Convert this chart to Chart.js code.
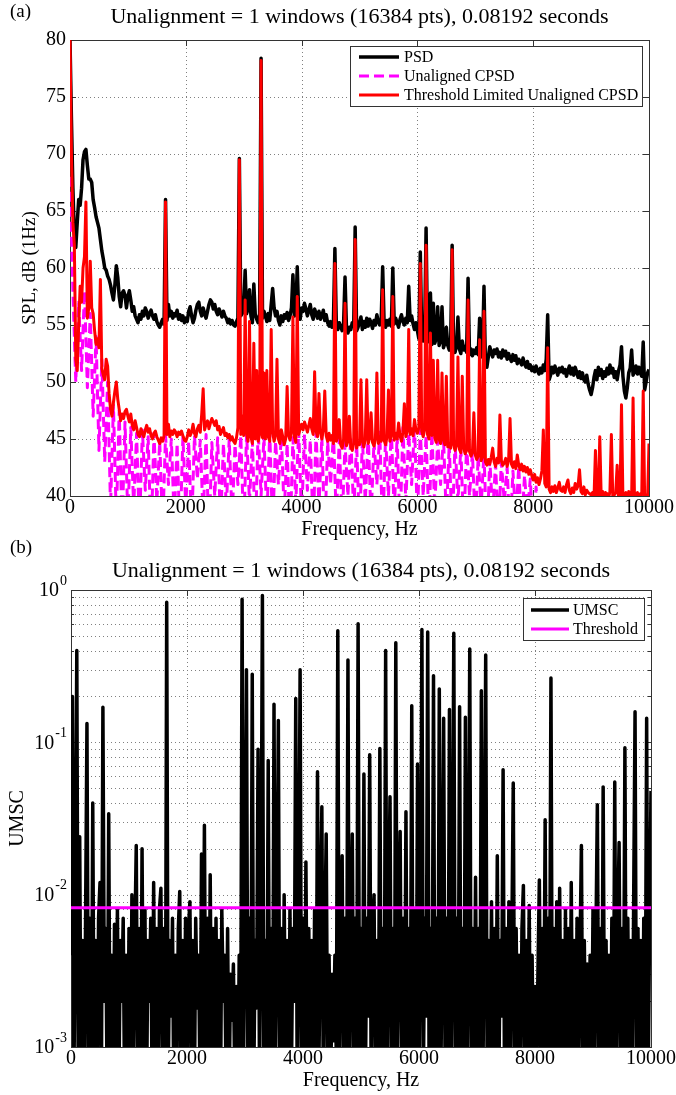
<!DOCTYPE html>
<html>
<head>
<meta charset="utf-8">
<script src="https://cdn.jsdelivr.net/npm/chart.js@4.4.1/dist/chart.umd.min.js"></script>
<style>
  html, body { margin: 0; padding: 0; background: #fff; }
  #wrap { position: relative; width: 676px; height: 1095px; overflow: hidden; }
  #psdChart { position: absolute; left: 0; top: 0; }
  #umscChart { position: absolute; left: 0; top: 535px; }
</style>
</head>
<body>
<div id="wrap">
  <canvas id="psdChart" width="676" height="545"></canvas>
  <canvas id="umscChart" width="676" height="560"></canvas>
</div>
<script>
// ---- data ----
var freqStep = 25;   // Hz between samples of psdDb, cpsdLimitedDb, umscE3
var cpsdStep = 50;   // Hz between samples of cpsdUnalignedDb

var psdDb = [
  80, 73, 67, 63, 61.8, 64, 66, 65.5, 67, 69.5, 70.2, 70.4, 69, 67.8, 67.8, 67.5, 66, 65.3, 64.5, 64,
  63.5, 62.5, 61.5, 60.8, 60, 59.8, 59.3, 59, 58.5, 57.8, 57.2, 58.5, 60.2, 59.2, 57.5, 56.6, 57.8, 58, 57.6, 56.5,
  57.5, 58, 57.2, 56.2, 56.6, 55.8, 55.5, 55.2, 55.9, 55.5, 56.2, 55.8, 56.5, 56.2, 55.6, 56, 56.3, 55.8, 55.5, 55.9,
  55.3, 55, 54.8, 55.2, 55.5, 55.1, 66, 55.4, 56.8, 55.8, 56.2, 55.6, 56, 55.8, 56.3, 55.5, 55.9, 55.4, 55.8, 55.2,
  55.6, 55.3, 56.2, 56.6, 55.8, 55.2, 55.6, 56.3, 56.8, 57, 56.2, 55.8, 56.5, 56, 55.6, 56.2, 56.8, 57.2, 57, 56.4,
  56.8, 56.2, 55.9, 56.4, 56.1, 55.7, 56.2, 55.8, 55.6, 55.2, 55.5, 55.1, 55.4, 55, 54.9, 55.3, 55.6, 69.6, 55.8, 56,
  56.5, 59.8, 56, 56.4, 58.1, 55.8, 55.2, 58.6, 55.9, 55.5, 55.2, 56, 78.4, 55.6, 56.2, 55.8, 55.3, 56, 55.4, 56.8,
  58.2, 56.5, 55.8, 56.2, 55.4, 55, 55.8, 55.3, 55.9, 55.6, 56.1, 55.4, 55.8, 56.5, 59.4, 55.8, 56.2, 60.1, 56, 55.5,
  56.5, 56.2, 56.9, 56.4, 55.8, 56.3, 56.8, 55.9, 55.5, 56.4, 56, 55.6, 56.2, 55.5, 55.8, 56.3, 55.4, 55.9, 55.2, 54.9,
  55.3, 54.8, 55.4, 61.7, 55, 54.6, 55.2, 54.9, 54.5, 55.1, 59.2, 54.7, 54.3, 54.8, 54.6, 55.2, 54.9, 63.6, 54.5, 54.8,
  55.2, 55.7, 54.6, 55.3, 54.8, 55.6, 54.9, 55.5, 55.2, 54.7, 55.4, 55, 55.9, 55.3, 55, 55.5, 60.1, 55.2, 54.8, 55.4,
  55, 55.5, 54.9, 60, 55.1, 55.6, 55.2, 54.8, 55.5, 55.9, 55.3, 55, 55.6, 55.2, 58.4, 55.4, 55.8, 55.1, 54.6, 55.2,
  54.5, 53.8, 61.4, 54, 53.6, 54.2, 63.5, 53.5, 54, 57.8, 53.3, 56.9, 53.4, 53.8, 56.6, 53.2, 53.6, 56.6, 53, 53.4,
  54.8, 53.2, 52.8, 53.5, 62, 53, 52.6, 53.2, 55.7, 52.9, 52.5, 53.6, 52.8, 53.1, 52.6, 59.1, 52.4, 52.9, 52.3, 52.8,
  52.5, 53, 52.4, 55.6, 52.2, 52.8, 58.4, 51.5, 51.3, 52.2, 53.1, 52.6, 52.2, 52.8, 52.5, 52.9, 52.2, 52.6, 52.1, 52.8,
  52.3, 52.7, 52, 52.5, 52.1, 51.8, 52.4, 51.9, 52.3, 51.6, 52, 51.8, 51.5, 52.1, 51.6, 51.3, 51.8, 51.2, 51.5, 51,
  51.3, 50.9, 51.4, 51, 50.7, 51.2, 50.8, 51.5, 51, 52, 55.9, 50.2, 50.6, 51.3, 50.8, 51.4, 51, 50.6, 51.2, 50.9,
  51.3, 50.8, 51.1, 50.5, 51, 51.4, 50.7, 51.2, 50.6, 51.3, 50.9, 50.4, 50.9, 50.3, 50.8, 50.2, 50, 50.6, 49.8, 49.3,
  48.9, 49.5, 50.4, 51, 50.2, 51.3, 50.6, 51.1, 50.3, 50.9, 50.5, 51.2, 50.7, 51.5, 50.8, 51.2, 50.4, 50.9, 50.2, 51,
  51.5, 53.1, 50.5, 49.2, 48.6, 49.5, 50.8, 51.2, 52.8, 50.6, 50.9, 51.4, 50.7, 51.3, 50.8, 50.5, 53.5, 49.3, 50, 50.8,
  51.1
];

var cpsdLimitedDb = [
  80, 70, 64, 62, 52, 51, 55, 58.4, 57, 60, 61, 65.8, 55.6, 56.5, 60.6, 56.5, 56, 54.5, 53.3, 53.8,
  53, 59, 51.2, 50.6, 50.2, 52, 51.4, 49, 47.6, 47, 48.2, 49.2, 50, 48.5, 47.6, 46.6, 47.2, 46.8, 47.4, 47.6,
  47, 46.5, 47.2, 46.2, 45.8, 46.6, 46, 45.4, 45.2, 45.9, 45.5, 45.2, 45.8, 46.2, 45.6, 45.9, 45.3, 45, 45.5, 45.7,
  45.2, 44.9, 44.6, 45.1, 44.8, 45.3, 65.8, 45.4, 46.3, 45.2, 45.7, 45.4, 45.8, 45.6, 45.2, 45.6, 45.4, 45.7, 45.3, 44.9,
  44.8, 45.2, 45.8, 45.3, 45.6, 46.3, 45.5, 45.2, 45.9, 46.2, 45.6, 47.2, 49.4, 45.8, 46.3, 46.6, 45.9, 46.4, 46.8, 46.5,
  46.2, 46.6, 45.8, 46.1, 45.4, 45.7, 46, 45.3, 45.5, 45.1, 45.4, 44.9, 45.2, 44.8, 44.6, 45.1, 46, 69.5, 45.4, 47,
  45.3, 57.2, 45.5, 44.8, 55.3, 45.2, 44.6, 53.4, 45, 51, 44.8, 45.4, 78.2, 45.1, 50.8, 45, 51, 45.2, 44.8, 54.6,
  45.6, 44.8, 45.3, 52, 45, 44.6, 45.8, 45.2, 44.5, 45, 49.6, 45.3, 44.9, 45.6, 55.7, 45.2, 44.7, 57.5, 45.4, 45.9,
  46.3, 45.8, 46.5, 46.1, 45.6, 46.2, 46.8, 45.9, 45.4, 50.9, 45.7, 45.2, 49, 45.6, 45, 45.8, 49.2, 45.3, 44.8, 45.5,
  44.9, 45.3, 44.6, 60.4, 44.8, 45.2, 46.7, 44.5, 44.2, 44.9, 56.9, 44.4, 44.8, 47, 44.3, 44, 44.6, 62.5, 44.2, 44.7,
  44.5, 50.2, 44.8, 44.3, 45, 50.2, 44.6, 45.1, 47.3, 44.7, 44.4, 45, 50.8, 44.6, 45.2, 44.8, 58.1, 44.9, 44.5, 45.2,
  49.3, 44.8, 45.3, 57.5, 44.9, 45.5, 45, 46.4, 45.3, 44.8, 45.6, 48.1, 45.2, 45.7, 54.6, 45.4, 45.9, 45.3, 46.7, 45.8,
  45.5, 46, 60.4, 45.7, 45.2, 45.8, 62, 45.4, 45, 54.3, 45.3, 51.9, 45.1, 44.7, 51.9, 45, 44.6, 50.8, 44.9, 44.5,
  50.5, 44.3, 44.6, 44.2, 61.6, 44.5, 44, 44.4, 52.2, 44.1, 43.8, 50.5, 44.2, 43.7, 44, 57.2, 43.9, 43.5, 43.8, 47.3,
  43.6, 43.2, 43.5, 53.7, 43.1, 43.4, 56.2, 43, 42.7, 43.2, 42.8, 43.4, 44.2, 43, 42.6, 43.3, 42.9, 47.1, 43.1, 42.7,
  42.9, 43.3, 42.6, 43.1, 46.8, 42.8, 42.5, 43, 42.4, 43.6, 42.7, 42.3, 42.8, 42.2, 42.6, 42.1, 42.5, 41.9, 42.3, 41.8,
  41.4, 41.9, 41.2, 41.6, 41, 41.5, 42.2, 45.8, 41.1, 40.8, 53, 40.6, 40.3, 40.8, 40.4, 40.9, 40.3, 40.7, 41.2, 40.5,
  40.4, 40.8, 40.3, 41, 41.4, 40.5, 40.2, 40.7, 40.3, 41.1, 40.6, 40.9, 42.3, 40.4, 40.2, 40.8, 40.1, 40.5, 40.3, 40.2,
  40.1, 40.3, 39.8, 44, 39.7, 40.1, 45.2, 39.8, 40.4, 39.6, 40.3, 40.2, 39.7, 40.4, 45.4, 39.8, 40.1, 40.3, 42.7, 39.6,
  40.1, 48, 39.7, 40.1, 40.3, 39.6, 40.4, 40.2, 39.8, 48.6, 39.7, 40.1, 40.3, 39.6, 40.2, 40.1, 49.2, 39.8, 40.1, 39.7,
  44.6
];

var cpsdUnalignedDb = [
  68, 58, 50, 57, 51, 58, 49.5, 56, 47, 54, 44, 52, 43, 50, 39, 48, 38, 47.5, 37, 46.5,
  38, 46, 39, 45.5, 37, 45.8, 40.5, 45.2, 36, 45.5, 39.5, 44.8, 37, 45.3, 41, 45, 38, 44.6, 36.5, 45.2,
  39, 44.8, 37, 45.3, 41.5, 44.9, 38, 45.4, 36, 44.7, 40, 45.1, 37.5, 44.6, 39, 45, 38, 44.5, 41, 45.3,
  37, 45.5, 39.5, 44.9, 36.5, 45.8, 40, 45.2, 38, 45.6, 37, 44.8, 41, 45.3, 38.5, 44.6, 36, 45.1, 39.5, 45.7,
  38, 45.4, 40.5, 44.9, 37, 45.6, 39, 45.2, 36.5, 44.8, 41, 45.5, 38, 45, 37.5, 44.6, 40, 45.2, 38.5, 44.7,
  37, 45, 39.5, 45.4, 38, 44.8, 41, 45.6, 36.5, 45.2, 40, 45.8, 38.5, 45.3, 37, 46, 39.5, 45.5, 41, 46.2,
  38, 45.8, 40, 45.3, 37.5, 45.6, 39, 44.9, 41, 45.2, 38, 44.6, 36.5, 44.8, 39.5, 44.2, 37, 44.5, 40, 43.8,
  37.5, 43.5, 39, 43.8, 36, 43.2, 38.5, 42.8, 37, 43, 39.5, 42.5, 36.5, 42.2, 38, 42.6, 37, 41.8, 38.5, 41.5,
  36, 40.8, 37, 39.5, 35, 39.8, 36.5, 38.5, 35.5, 39, 36, 38, 35, 38.5, 34.5, 37.5, 35, 38, 34, 37,
  35, 37.5, 34, 38, 35.5, 37, 34, 37.8, 35, 36.5, 34.5, 37.2, 35, 36.8, 34, 37.5, 35.5, 36.5, 34, 37,
  35
];

// UMSC in units of 1e-3
var umscE3 = [
  4, 200, 0.6, 8, 400, 0.5, 24, 0.4, 5, 0.3, 6, 133, 0.7, 7, 0.4, 40, 0.5, 5, 0.3, 7,
  12, 0.6, 170, 2, 6, 0.4, 34, 0.5, 4, 0.3, 6.4, 0.8, 8, 0.5, 5, 2, 7, 0.4, 4, 0.6,
  6, 0.4, 10, 0.7, 5, 21, 0.5, 6, 0.4, 20, 0.7, 8, 0.3, 5, 2, 7, 0.4, 12, 0.8, 6,
  0.5, 8, 11, 0.6, 6, 0.3, 830, 0.5, 5, 1.6, 7, 0.3, 4, 0.6, 6, 10.5, 0.4, 5, 0.8, 7,
  0.4, 6, 9, 0.6, 5, 0.3, 7, 1.8, 4, 0.5, 18.5, 0.7, 28.6, 0.6, 7, 0.4, 13.5, 0.7, 6, 0.4,
  7, 0.8, 5, 0.3, 8, 2, 4, 0.5, 6, 0.4, 3, 1.5, 3.5, 0.5, 2.5, 0.4, 4, 0.6, 870, 0.8,
  6, 300, 0.6, 7, 0.8, 280, 0.5, 5, 1.8, 90, 0.6, 6, 920, 0.8, 5, 0.5, 76, 0.6, 6, 0.4,
  178, 0.8, 5, 139, 0.5, 6, 0.3, 10, 0.8, 5, 0.4, 8, 0.6, 6, 2, 194, 0.5, 5, 300, 0.6,
  7, 0.5, 16.4, 0.8, 6, 0.4, 5, 0.6, 8, 0.5, 64, 0.8, 6, 37.7, 0.5, 5, 25, 0.6, 4, 0.4,
  3, 1.1, 4, 0.8, 540, 0.6, 6, 18, 0.5, 7, 0.7, 347, 0.5, 6, 25, 0.6, 7, 0.8, 600, 0.6,
  6, 0.7, 62, 0.5, 7, 1.6, 83, 0.6, 6, 10, 0.5, 5, 0.8, 91, 0.5, 6, 0.8, 400, 0.5, 7,
  44, 0.6, 6, 0.5, 450, 0.8, 5, 26, 0.6, 7, 0.7, 35, 0.5, 6, 0.8, 174, 0.5, 8, 0.6, 72,
  0.5, 6, 550, 0.6, 7, 1.6, 530, 0.5, 6, 0.8, 274, 0.5, 7, 0.7, 224, 0.5, 6, 144, 0.6, 7,
  0.8, 164, 0.5, 6, 520, 0.6, 7, 0.8, 171, 0.5, 6, 0.6, 146, 0.5, 5, 410, 0.6, 6, 0.8, 13,
  0.5, 6, 0.7, 218, 0.5, 7, 374, 0.6, 5, 0.8, 9, 0.5, 6, 0.6, 18, 0.5, 5, 1.6, 66, 0.5,
  6, 0.7, 9, 0.5, 5, 54, 0.6, 6, 0.8, 4, 0.5, 6, 11.5, 0.6, 5, 0.8, 8.5, 0.5, 4, 0.6,
  2.5, 0.5, 3, 12.5, 0.6, 6, 0.8, 31, 0.5, 7, 0.8, 264, 0.5, 6, 0.7, 9, 0.5, 11, 0.8, 5,
  0.5, 8, 0.6, 6, 0.5, 12, 0.7, 5, 0.5, 7, 0.6, 4, 21, 0.5, 5, 0.8, 3.5, 0.5, 4, 0.6,
  8, 0.5, 5, 39, 0.6, 6, 0.5, 51, 0.6, 5, 0.8, 4, 0.5, 7, 0.6, 55, 0.5, 6, 22, 0.6,
  6, 0.8, 92, 0.5, 7, 0.6, 5, 0.5, 8, 159, 0.6, 6, 0.7, 5, 0.5, 7, 0.8, 144, 0.5, 6,
  48
];
var umscThreshold = 0.0082;

var freqTicks = [0, 2000, 4000, 6000, 8000, 10000];
var splTicks = [40, 45, 50, 55, 60, 65, 70, 75, 80];
var umscDecades = [0.001, 0.01, 0.1, 1];
var umscExponents = ['-3', '-2', '-1', '0'];
var umscMinor = [0.001, 0.01, 0.1].flatMap(function (d) {
  return [2, 3, 4, 5, 6, 7, 8, 9].map(function (k) { return k * d; });
});

var titleText = 'Unalignment = 1 windows (16384 pts), 0.08192 seconds';
var SERIF = '"Liberation Serif", "Times New Roman", serif';

Chart.defaults.font.family = SERIF;
Chart.defaults.color = '#000';

function seriesPoints(values, step, unit) {
  return values.map(function (v, i) { return { x: i * step, y: v * (unit || 1) }; });
}

// matlab-ish axes: dotted grid, inward ticks, box, title, legend box
var matlabAxes = {
  id: 'matlabAxes',
  beforeDatasetsDraw: function (chart, args, o) {
    var ctx = chart.ctx, a = chart.chartArea;
    var xs = chart.scales.x, ys = chart.scales.y;
    var px = function (v) { return Math.round(xs.getPixelForValue(v)) + 0.5; };
    var py = function (v) { return Math.round(ys.getPixelForValue(v)) + 0.5; };
    var minor = o.yMinor || [];
    ctx.save();
    ctx.lineWidth = 1;
    ctx.strokeStyle = '#808080';
    ctx.setLineDash([1, 3]);
    ctx.beginPath();
    o.xGrid.forEach(function (v) { ctx.moveTo(px(v), a.top); ctx.lineTo(px(v), a.bottom); });
    o.yGrid.concat(minor).forEach(function (v) { ctx.moveTo(a.left, py(v)); ctx.lineTo(a.right, py(v)); });
    ctx.stroke();
    ctx.setLineDash([]);
    ctx.strokeStyle = '#333';
    ctx.beginPath();
    o.xGrid.forEach(function (v) {
      ctx.moveTo(px(v), a.bottom); ctx.lineTo(px(v), a.bottom - 6);
      ctx.moveTo(px(v), a.top); ctx.lineTo(px(v), a.top + 6);
    });
    o.yGrid.forEach(function (v) {
      ctx.moveTo(a.left, py(v)); ctx.lineTo(a.left + 6, py(v));
      ctx.moveTo(a.right, py(v)); ctx.lineTo(a.right - 6, py(v));
    });
    minor.forEach(function (v) {
      ctx.moveTo(a.left, py(v)); ctx.lineTo(a.left + 3, py(v));
      ctx.moveTo(a.right, py(v)); ctx.lineTo(a.right - 3, py(v));
    });
    ctx.stroke();
    ctx.strokeRect(Math.round(a.left) + 0.5, Math.round(a.top) + 0.5, Math.round(a.width), Math.round(a.height));
    ctx.restore();
  },
  afterDraw: function (chart, args, o) {
    var ctx = chart.ctx, a = chart.chartArea;
    ctx.save();
    ctx.fillStyle = '#000';
    ctx.textBaseline = 'middle';
    ctx.font = '19px ' + SERIF;
    ctx.textAlign = 'left';
    ctx.fillText(o.letter, 10, o.letterY);
    ctx.font = '22px ' + SERIF;
    ctx.textAlign = 'center';
    ctx.fillText(o.title, (a.left + a.right) / 2, o.titleY);

    // 10^n labels for the log axis
    if (o.expLabels) {
      var ys = chart.scales.y;
      o.expLabels.values.forEach(function (v, i) {
        var e = o.expLabels.text[i];
        var y = ys.getPixelForValue(v);
        var right = a.left - 4;
        ctx.font = '14px ' + SERIF;
        var we = ctx.measureText(e).width;
        ctx.textAlign = 'left';
        ctx.fillText(e, right - we, y - 9);
        ctx.font = '20px ' + SERIF;
        var w10 = ctx.measureText('10').width;
        ctx.fillText('10', right - we - w10 - 1, y + 1);
      });
    }

    var L = o.legend;
    ctx.fillStyle = '#fff';
    ctx.fillRect(L.x, L.y, L.w, L.h);
    ctx.strokeStyle = '#333';
    ctx.lineWidth = 1;
    ctx.strokeRect(L.x + 0.5, L.y + 0.5, L.w, L.h);
    ctx.font = '16px ' + SERIF;
    ctx.textAlign = 'left';
    chart.data.datasets.forEach(function (ds, i) {
      var yy = L.y + L.rowTop + i * L.rowGap;
      ctx.strokeStyle = ds.borderColor;
      ctx.lineWidth = ds.borderWidth;
      ctx.setLineDash(ds.borderDash || []);
      ctx.beginPath();
      ctx.moveTo(L.x + L.lineX0, yy);
      ctx.lineTo(L.x + L.lineX1, yy);
      ctx.stroke();
      ctx.setLineDash([]);
      ctx.fillStyle = '#000';
      ctx.fillText(ds.label, L.x + L.textX, yy + 1);
    });
    ctx.restore();
  }
};

function baseXScale(height, titlePad) {
  return {
    type: 'linear', min: 0, max: 10000,
    afterBuildTicks: function (s) { s.ticks = freqTicks.map(function (v) { return { value: v }; }); },
    ticks: { font: { size: 20 }, padding: 0, maxRotation: 0, autoSkip: false,
             callback: function (v) { return String(v); } },
    grid: { display: false, drawTicks: false },
    border: { display: false },
    title: { display: true, text: 'Frequency, Hz', font: { size: 20 }, padding: { top: 0, bottom: titlePad } },
    afterFit: function (s) { s.height = height; }
  };
}

new Chart(document.getElementById('psdChart'), {
  type: 'line',
  data: {
    datasets: [
      { label: 'PSD', data: seriesPoints(psdDb, freqStep), borderColor: '#000000',
        borderWidth: 3.5, order: 3, clip: 0 },
      { label: 'Unaligned CPSD', data: seriesPoints(cpsdUnalignedDb, cpsdStep), borderColor: '#ff00ff',
        borderWidth: 3, borderDash: [10, 5], order: 2, clip: 0 },
      { label: 'Threshold Limited Unaligned CPSD', data: seriesPoints(cpsdLimitedDb, freqStep), borderColor: '#ff0000',
        borderWidth: 3, order: 1, clip: 0 }
    ]
  },
  options: {
    responsive: false, animation: false, events: [],
    layout: { padding: { top: 40, right: 27, bottom: 0, left: 0 } },
    elements: { point: { radius: 0 }, line: { tension: 0, fill: false, borderJoinStyle: 'round' } },
    scales: {
      x: baseXScale(49, 3),
      y: {
        type: 'linear', min: 40, max: 80,
        afterBuildTicks: function (s) { s.ticks = splTicks.map(function (v) { return { value: v }; }); },
        ticks: { font: { size: 20 }, padding: 4 },
        grid: { display: false, drawTicks: false },
        border: { display: false },
        title: { display: true, text: 'SPL, dB (1Hz)', font: { size: 19 }, padding: { top: 19, bottom: 0 } },
        afterFit: function (s) { s.width = 70; }
      }
    },
    plugins: {
      legend: { display: false },
      tooltip: { enabled: false },
      matlabAxes: {
        xGrid: freqTicks, yGrid: splTicks,
        title: titleText, titleY: 17, letter: '(a)', letterY: 12,
        legend: { x: 350, y: 46, w: 292, h: 60, rowTop: 11, rowGap: 19, lineX0: 9, lineX1: 49, textX: 54 }
      }
    }
  },
  plugins: [matlabAxes]
});

new Chart(document.getElementById('umscChart'), {
  type: 'line',
  data: {
    datasets: [
      { label: 'UMSC', data: seriesPoints(umscE3, freqStep, 0.001), borderColor: '#000000',
        borderWidth: 3.5, order: 2, clip: 0 },
      { label: 'Threshold', data: [{ x: 0, y: umscThreshold }, { x: 10000, y: umscThreshold }],
        borderColor: '#ff00ff', borderWidth: 3, order: 1, clip: 0 }
    ]
  },
  options: {
    responsive: false, animation: false, events: [],
    layout: { padding: { top: 55, right: 25, bottom: 0, left: 0 } },
    elements: { point: { radius: 0 }, line: { tension: 0, fill: false, borderJoinStyle: 'round' } },
    scales: {
      x: baseXScale(48, 2),
      y: {
        type: 'logarithmic', min: 0.001, max: 1,
        ticks: { display: false },
        grid: { display: false, drawTicks: false },
        border: { display: false },
        title: { display: true, text: 'UMSC', font: { size: 20 }, padding: { top: 6, bottom: 0 } },
        afterFit: function (s) { s.width = 71; }
      }
    },
    plugins: {
      legend: { display: false },
      tooltip: { enabled: false },
      matlabAxes: {
        xGrid: freqTicks, yGrid: umscDecades, yMinor: umscMinor,
        expLabels: { values: umscDecades, text: umscExponents },
        title: titleText, titleY: 36, letter: '(b)', letterY: 13,
        legend: { x: 523, y: 63, w: 121, h: 42, rowTop: 12, rowGap: 19, lineX0: 8, lineX1: 46, textX: 50 }
      }
    }
  },
  plugins: [matlabAxes]
});
</script>
</body>
</html>
